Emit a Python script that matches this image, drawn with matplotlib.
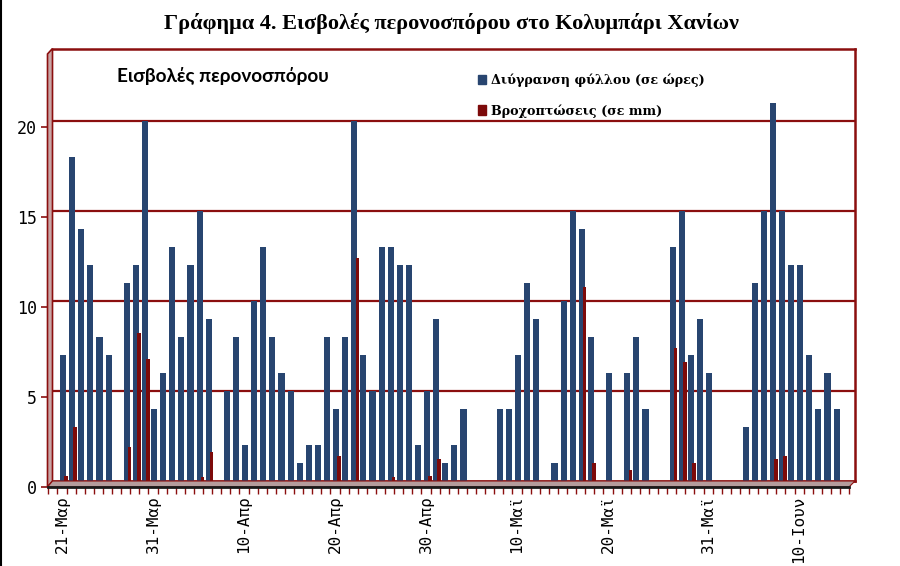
import numpy as np
import matplotlib
matplotlib.use("Agg")
import matplotlib.pyplot as plt
from matplotlib.patches import Polygon, Patch

# daily values, 20-Mar .. 15-Jun
wetness = [0, 7, 18, 14, 12, 8, 7, 0, 11, 12, 20, 4, 6, 13, 8, 12, 15, 9, 0, 5,
           8, 2, 10, 13, 8, 6, 5, 1, 2, 2, 8, 4, 8, 20, 7, 5, 13, 13, 12, 12,
           2, 5, 9, 1, 2, 4, 0, 0, 0, 4, 4, 7, 11, 9, 0, 1, 10, 15, 14, 8,
           0, 6, 0, 6, 8, 4, 0, 0, 13, 15, 7, 9, 6, 0, 0, 0, 3, 11, 15, 21,
           15, 12, 12, 7, 4, 6, 4, 0]
rain = [0] * len(wetness)
rain_days = {1: 0.3, 2: 3.0, 8: 1.9, 9: 8.2, 10: 6.8, 16: 0.2, 17: 1.6, 31: 1.4,
             33: 12.4, 37: 0.2, 41: 0.3, 42: 1.2, 58: 10.8, 59: 1.0, 63: 0.6,
             68: 7.4, 69: 6.6, 70: 1.0, 79: 1.2, 80: 1.4}
for k, v in rain_days.items():
    rain[k] = v

tick_idx = [1, 11, 21, 31, 41, 51, 61, 72, 82]
tick_labels = ["21-Μαρ", "31-Μαρ", "10-Απρ", "20-Απρ", "30-Απρ",
               "10-Μαϊ", "20-Μαϊ", "31-Μαϊ", "10-Ιουν"]
yticks = [0, 5, 10, 15, 20]

title = "Γράφημα 4. Εισβολές περονοσπόρου στο Κολυμπάρι Χανίων"
inner_title = "Εισβολές περονοσπόρου"
series_names = ["Διύγρανση φύλλου (σε ώρες)", "Βροχοπτώσεις (σε mm)"]

BLUE = "#284570"
RED = "#7d0a0a"
DRED = "#8b0f0f"
W, H = 900, 566
step = 9.1     # px per day
unit = 18.0    # px per y unit
ymax = 24

fig = plt.figure(figsize=(W / 100, H / 100), dpi=100)
n = len(wetness)
x = np.arange(n)

# back wall axes (bars + gridlines)
ax = fig.add_axes([52.5 / W, 1 - 481 / H, (855 - 52.5) / W, ymax * unit / H])
ax.set_xlim(0, (855 - 52.5) / step)
ax.set_ylim(0, ymax)
ax.bar(x + 0.165, wetness, width=0.66, color=BLUE, zorder=3)
ax.bar(x + 0.49, rain, width=0.38, color=RED, zorder=4)
for v in yticks[1:]:
    ax.axhline(v, color=DRED, lw=1.6, zorder=1)
for s in ["top", "right", "bottom"]:
    ax.spines[s].set_color(DRED)
    ax.spines[s].set_linewidth(1.8)
ax.spines["left"].set_visible(False)
ax.set_xticks([])
ax.set_yticks([])

# left wall and floor
def P(px, py):
    return (px / W, 1 - py / H)

wall = Polygon([P(47.5, 54), P(52.5, 48.5), P(52.5, 481), P(47.5, 487)],
               closed=True, transform=fig.transFigure, facecolor="#c9a5a5",
               edgecolor=DRED, lw=1.2, zorder=5)
floor = Polygon([P(52.5, 481), P(855, 481), P(849, 487), P(47.5, 487)],
                closed=True, transform=fig.transFigure, facecolor="#b59c9c",
                edgecolor=DRED, lw=0.8, zorder=5)
fig.add_artist(wall)
fig.add_artist(floor)

# front axes: value labels and category axis
ax2 = fig.add_axes([48.3 / W, 1 - 487 / H, n * step / W, ymax * unit / H],
                   facecolor="none")
ax2.set_zorder(6)
ax2.set_xlim(0, n)
ax2.set_ylim(0, ymax)
for s in ["top", "right", "left"]:
    ax2.spines[s].set_visible(False)
ax2.spines["bottom"].set_color("#1a1a1a")
ax2.spines["bottom"].set_linewidth(2)
ax2.set_yticks(yticks)
ax2.set_yticklabels([str(v) for v in yticks], family="DejaVu Sans Mono",
                    fontsize=12)
ax2.tick_params(axis="y", length=5, width=1.2, color=DRED, pad=3)
ax2.set_xticks(np.array(tick_idx) + 0.5)
ax2.set_xticklabels(tick_labels, rotation=90, family="DejaVu Sans Mono",
                    fontsize=11.5)
ax2.set_xticks(np.arange(n + 1), minor=True)
ax2.tick_params(axis="x", which="major", length=0, pad=6)
ax2.tick_params(axis="x", which="minor", length=5, width=1, color=DRED)

fig.text(451 / W, 1 - 24 / H, title, ha="center", va="center",
         family="Liberation Serif", fontweight="bold", fontsize=16)
fig.text(117 / W, 1 - 76 / H, inner_title, ha="left", va="center",
         family="Lato", fontweight="bold", fontsize=13.7)

handles = [Patch(color=BLUE, label=series_names[0]),
           Patch(color=RED, label=series_names[1])]
fig.legend(handles=handles, loc="upper left",
           bbox_to_anchor=(467 / W, 1 - 62 / H), frameon=False,
           handlelength=0.6, handleheight=0.8, handletextpad=0.4,
           labelspacing=1.35, prop={"family": "DejaVu Serif",
                                    "weight": "bold", "size": 9.2})

# border on the left edge
fig.add_artist(plt.Line2D([0.5 / W, 0.5 / W], [0, 1], color="black", lw=1.5,
                          transform=fig.transFigure))

fig.savefig("out.png", dpi=100)
